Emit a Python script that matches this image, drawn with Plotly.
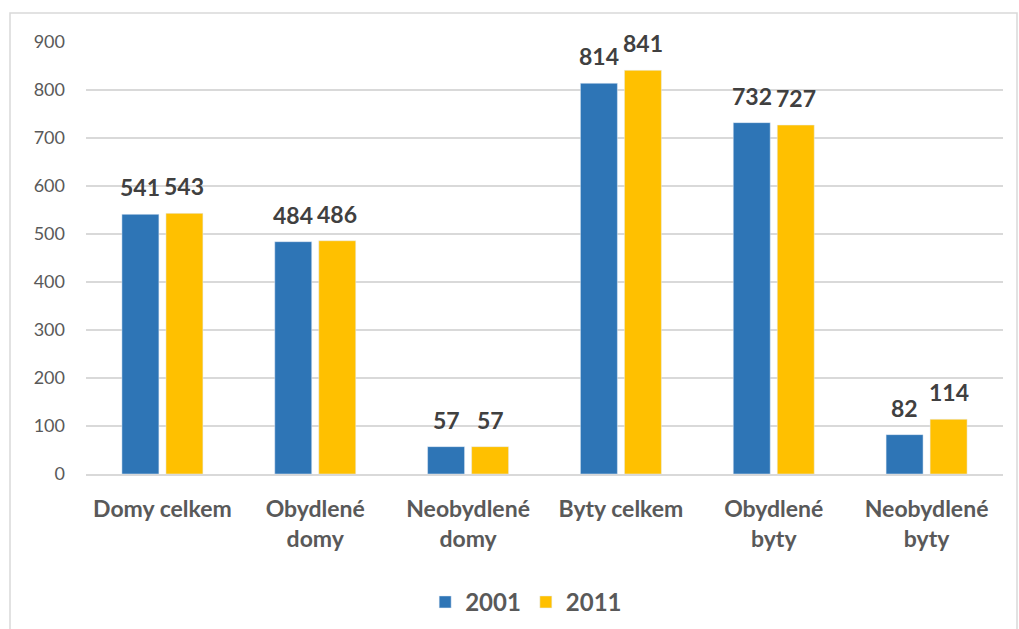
import plotly.graph_objects as go

categories = ["Domy celkem", "Obydlené<br>domy", "Neobydlené<br>domy", "Byty celkem", "Obydlené<br>byty", "Neobydlené<br>byty"]
values_2001 = [541, 484, 57, 814, 732, 82]
values_2011 = [543, 486, 57, 841, 727, 114]
y_ticks = [0, 100, 200, 300, 400, 500, 600, 700, 800, 900]

W, H = 1019, 629
L, R, T, B = 86, 16, 42, 155
pw, ph = W - L - R, H - T - B

fam = "Lato, Open Sans, sans-serif"

fig = go.Figure()
fig.add_trace(go.Bar(x=categories, y=values_2001, name="2001", marker_color="#2E75B6"))
fig.add_trace(go.Bar(x=categories, y=values_2011, name="2011", marker_color="#FFC000"))

# data labels above the bars
for vals, shift in [(values_2001, -22), (values_2011, 22)]:
    for c, v in zip(categories, vals):
        fig.add_annotation(x=c, y=v, text=str(v), showarrow=False,
                           xshift=shift, yshift=11, yanchor="bottom",
                           font=dict(family=fam, size=23, color="#404040", weight="bold"))

fig.update_layout(
    width=W, height=H,
    margin=dict(l=L, r=R, t=T, b=B, autoexpand=False),
    plot_bgcolor="white", paper_bgcolor="white",
    barmode="group", bargap=0.424, bargroupgap=0.16,
    font=dict(family=fam, color="#595959"),
    legend=dict(orientation="h", x=0.48, xanchor="center", y=-0.245, yanchor="top",
                font=dict(size=24, color="#595959", weight="bold"), itemwidth=30, traceorder="normal"),
    showlegend=True,
)
fig.update_yaxes(range=[0, 900], tickvals=y_ticks, showgrid=True, gridcolor="#D9D9D9", gridwidth=1.5,
                 zeroline=False, tickfont=dict(size=18, color="#595959"), ticks="", ticklabelstandoff=20)
fig.update_xaxes(showline=True, linecolor="#D9D9D9", linewidth=1.5,
                 tickfont=dict(size=23, color="#595959", weight="bold"), ticks="", ticklabelstandoff=14)

# chart border
fig.add_shape(type="rect", xref="paper", yref="paper",
              x0=(10 - L) / pw, x1=(1017 - L) / pw, y0=-0.6, y1=(H - B - 13) / ph,
              line=dict(color="#D9D9D9", width=1.5), layer="below")

fig.write_html("out.html", config={"displayModeBar": False},
               post_script="document.body.style.margin='0';")
